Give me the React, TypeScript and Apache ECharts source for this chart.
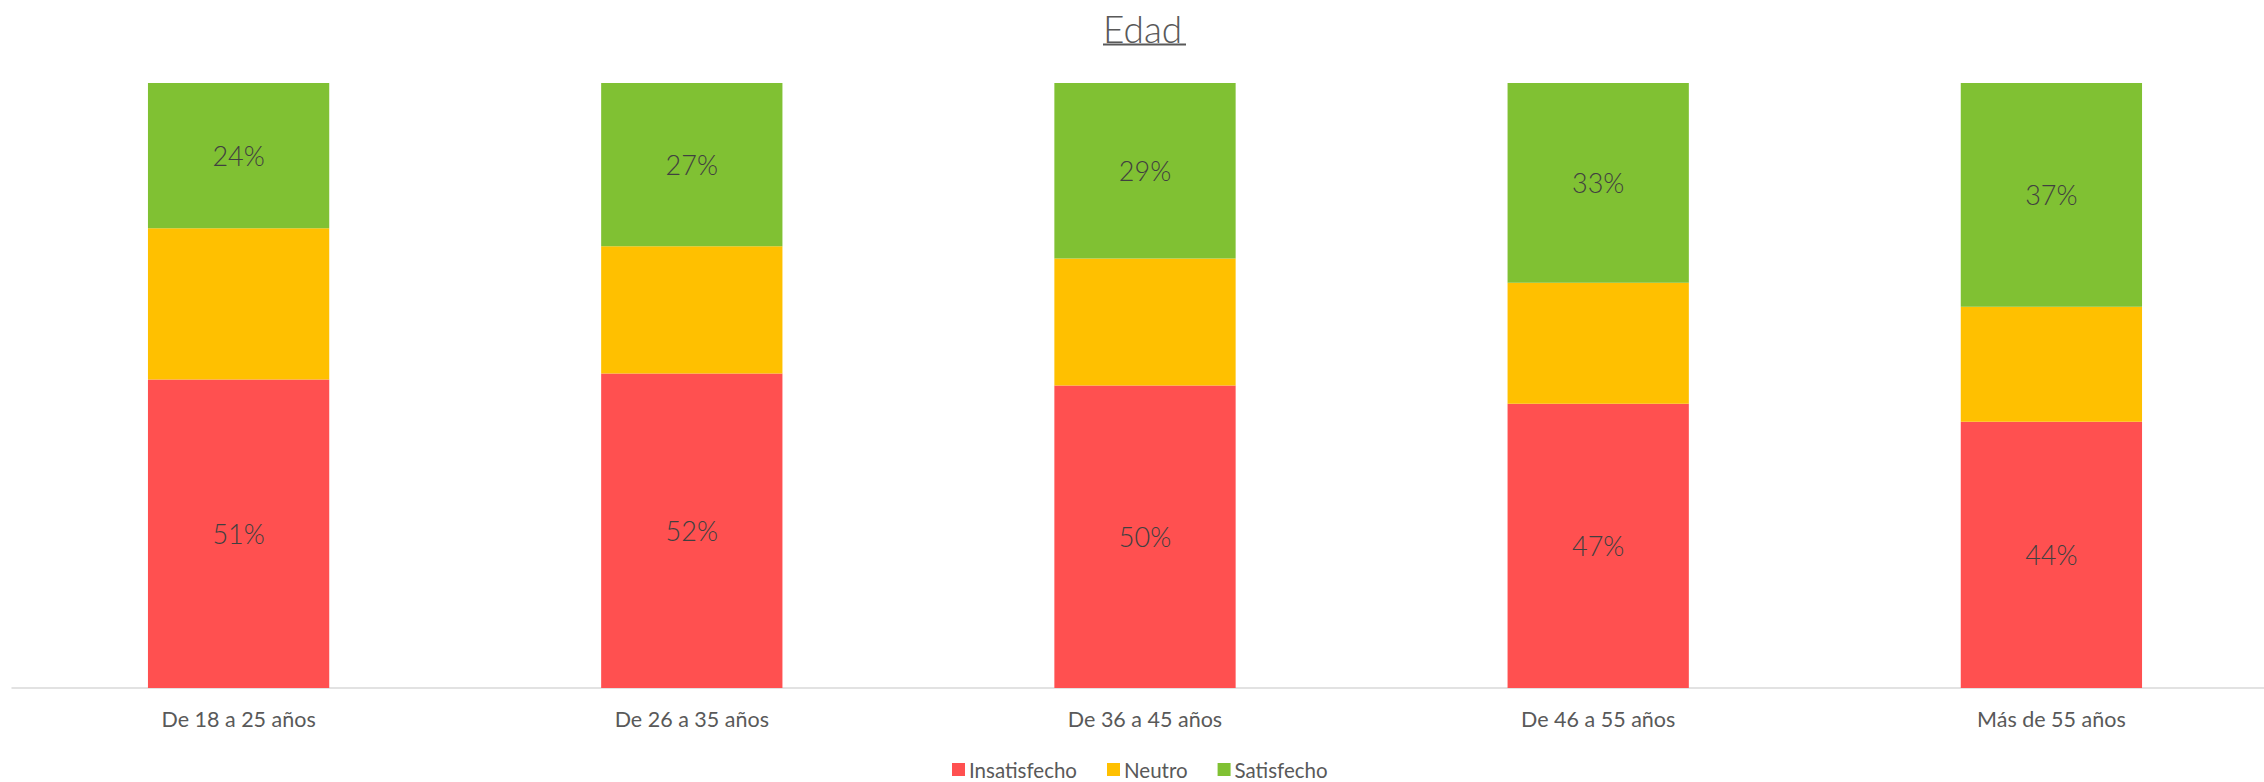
import React, { useEffect, useRef } from "react";
import * as echarts from "echarts";

const categories = ["De 18 a 25 años", "De 26 a 35 años", "De 36 a 45 años", "De 46 a 55 años", "Más de 55 años"];
const insatisfecho = [51, 52, 50, 47, 44];
const neutro = [25, 21, 21, 20, 19];
const satisfecho = [24, 27, 29, 33, 37];
const seriesNames = ["Insatisfecho", "Neutro", "Satisfecho"];
const colors = ["#FF5050", "#FFC000", "#80C133"];

export default function App() {
  const ref = useRef<HTMLDivElement>(null);
  useEffect(() => {
    if (!ref.current) return;
    const chart = echarts.init(ref.current, null, { renderer: "svg" });
    const font = "Lato, 'Open Sans', sans-serif";
    const label = {
      show: true,
      position: "inside",
      formatter: "{c}%",
      color: "#404040",
      fontSize: 27,
      fontWeight: 300,
      fontFamily: font,
    };
    chart.setOption({
      animation: false,
      color: colors,
      title: {
        text: "Edad",
        left: 1103,
        top: 10,
        padding: 0,
        textStyle: { color: "#595959", fontSize: 37, fontWeight: 300, fontFamily: font, lineHeight: 37 },
      },
      graphic: [
        {
          type: "line",
          shape: { x1: 1103, y1: 44.5, x2: 1186, y2: 44.5 },
          style: { stroke: "#595959", lineWidth: 2 },
        },
      ],
      legend: {
        data: seriesNames,
        left: 952,
        top: 759,
        padding: 0,
        itemWidth: 13,
        itemHeight: 13,
        itemGap: 30,
        icon: "rect",
        textStyle: { color: "#595959", fontSize: 20.5, lineHeight: 20, fontFamily: font, padding: [0, 0, 0, -1] },
      },
      grid: { left: 12, width: 2266, top: 83, bottom: 94, containLabel: false, outerBoundsMode: "none" },
      xAxis: {
        type: "category",
        data: categories,
        axisLine: { lineStyle: { color: "#D9D9D9", width: 1.5 } },
        axisTick: { show: false },
        axisLabel: { color: "#595959", fontSize: 21.5, fontFamily: font, margin: 20 },
      },
      yAxis: {
        type: "value",
        min: 0,
        max: 100,
        show: false,
        splitLine: { show: false },
      },
      series: [
        { name: seriesNames[0], type: "bar", stack: "a", barWidth: "40%", data: insatisfecho, label },
        { name: seriesNames[1], type: "bar", stack: "a", barWidth: "40%", data: neutro, label: { show: false } },
        { name: seriesNames[2], type: "bar", stack: "a", barWidth: "40%", data: satisfecho, label },
      ],
    });
    return () => chart.dispose();
  }, []);
  return (
    <div
      ref={ref}
      style={{ position: "absolute", left: 0, top: 0, width: 2264, height: 782 }}
    />
  );
}
